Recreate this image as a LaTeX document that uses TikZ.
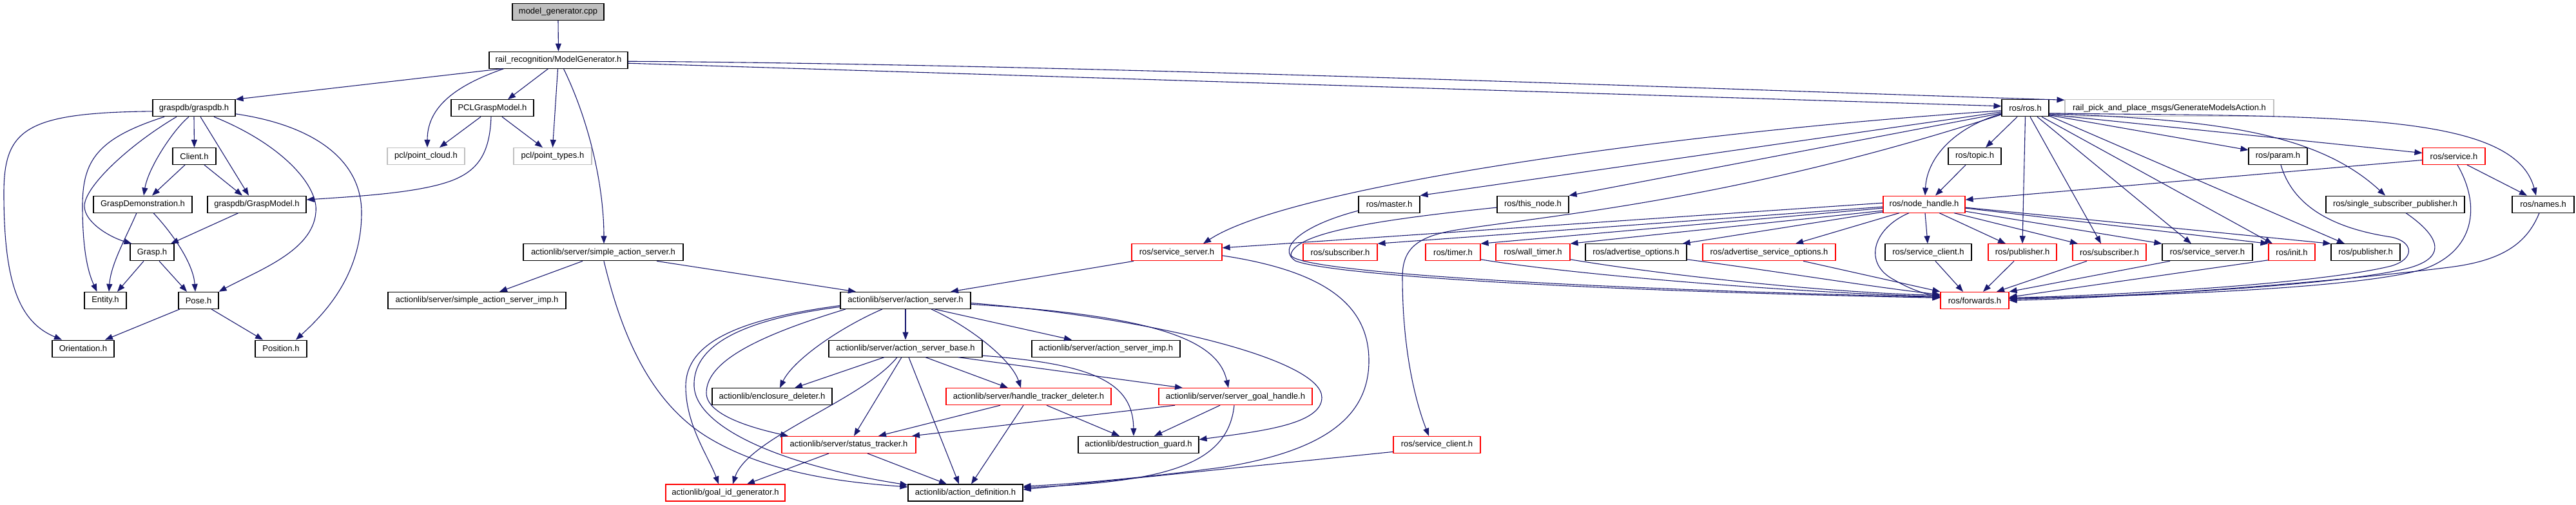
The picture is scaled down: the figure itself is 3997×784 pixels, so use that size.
\documentclass[tikz,border=0pt]{standalone}
\usepackage{fontspec}
\setmainfont{Liberation Sans}
\usetikzlibrary{arrows.meta}
\definecolor{edgec}{HTML}{191970}
\definecolor{greyb}{HTML}{BFBFBF}
\begin{document}
\begin{tikzpicture}[x=1pt,y=-1pt,
 nbox/.style={draw=black, line width=1.1pt, minimum height=26pt, inner sep=0pt, font=\fontsize{13}{15}\selectfont, text=black, fill=white},
 rbox/.style={nbox, draw=red},
 gbox/.style={nbox, draw=greyb},
 dep/.style={draw=edgec, line width=1.1pt, -{Triangle[length=12pt,width=9pt]}}]
\useasboundingbox[fill=white] (0,0) rectangle (3997,784);
% nodes
\node[nbox, fill=greyb, minimum width=142pt] (mg) at (866,18.5) {model\_generator.cpp};
\node[nbox, minimum width=215pt] (MG) at (866.5,93.2) {rail\_recognition/ModelGenerator.h};
\node[nbox, minimum width=128pt] (gdb) at (301,167.8) {graspdb/graspdb.h};
\node[nbox, minimum width=128pt] (pcl) at (764,167.8) {PCLGraspModel.h};
\node[nbox, minimum width=73pt] (ros) at (3142.5,167.8) {ros/ros.h};
\node[gbox, minimum width=324pt] (gma) at (3366,167.8) {rail\_pick\_and\_place\_msgs/GenerateModelsAction.h};
\node[nbox, minimum width=67pt] (cli) at (301.5,242.5) {Client.h};
\node[gbox, minimum width=120pt] (pc) at (661,242.5) {pcl/point\_cloud.h};
\node[gbox, minimum width=121pt] (pt) at (857.5,242.5) {pcl/point\_types.h};
\node[nbox, minimum width=82pt] (topic) at (3064,242.5) {ros/topic.h};
\node[nbox, minimum width=91pt] (param) at (3534.5,242.5) {ros/param.h};
\node[rbox, minimum width=97pt] (service) at (3807.5,242.5) {ros/service.h};
\node[nbox, minimum width=153pt] (gd) at (221.5,317.1) {GraspDemonstration.h};
\node[nbox, minimum width=153pt] (gm) at (398.5,317.1) {graspdb/GraspModel.h};
\node[nbox, minimum width=95pt] (master) at (2155.5,317.1) {ros/master.h};
\node[nbox, minimum width=111pt] (thisnode) at (2378.5,317.1) {ros/this\_node.h};
\node[rbox, minimum width=127pt] (nh) at (2985.5,317.1) {ros/node\_handle.h};
\node[nbox, minimum width=215pt] (ssp) at (3716.5,317.1) {ros/single\_subscriber\_publisher.h};
\node[nbox, minimum width=96pt] (names) at (3946,317.1) {ros/names.h};
\node[nbox, minimum width=68pt] (grasp) at (236,391.8) {Grasp.h};
\node[nbox, minimum width=248pt] (sas) at (936,391.8) {actionlib/server/simple\_action\_server.h};
\node[rbox, minimum width=140pt] (ss1) at (1826,391.8) {ros/service\_server.h};
\node[rbox, minimum width=115pt] (sub1) at (2079.5,391.8) {ros/subscriber.h};
\node[rbox, minimum width=85pt] (timer) at (2254.5,391.8) {ros/timer.h};
\node[rbox, minimum width=115pt] (wtimer) at (2378.5,391.8) {ros/wall\_timer.h};
\node[nbox, minimum width=157pt] (advo) at (2538.5,391.8) {ros/advertise\_options.h};
\node[rbox, minimum width=206pt] (advso) at (2745,391.8) {ros/advertise\_service\_options.h};
\node[nbox, minimum width=134pt] (sc1) at (2992,391.8) {ros/service\_client.h};
\node[rbox, minimum width=106pt] (pub2) at (3138,391.8) {ros/publisher.h};
\node[rbox, minimum width=114pt] (sub2) at (3273,391.8) {ros/subscriber.h};
\node[nbox, minimum width=140pt] (ss2) at (3425,391.8) {ros/service\_server.h};
\node[rbox, minimum width=72pt] (init) at (3556,391.8) {ros/init.h};
\node[nbox, minimum width=107pt] (pub3) at (3670.5,391.8) {ros/publisher.h};
\node[nbox, minimum width=65pt] (entity) at (163.5,466.4) {Entity.h};
\node[nbox, minimum width=62pt] (pose) at (308,466.4) {Pose.h};
\node[nbox, minimum width=276pt] (sasimp) at (740,466.4) {actionlib/server/simple\_action\_server\_imp.h};
\node[nbox, minimum width=202pt] (as) at (1405,466.4) {actionlib/server/action\_server.h};
\node[rbox, minimum width=106pt] (fwd) at (3064,466.4) {ros/forwards.h};
\node[nbox, minimum width=96pt] (orient) at (129,541.1) {Orientation.h};
\node[nbox, minimum width=80pt] (position) at (436,541.1) {Position.h};
\node[nbox, minimum width=238pt] (asb) at (1405,541.1) {actionlib/server/action\_server\_base.h};
\node[nbox, minimum width=230pt] (asimp) at (1716,541.1) {actionlib/server/action\_server\_imp.h};
\node[nbox, minimum width=186pt] (encl) at (1198,615.7) {actionlib/enclosure\_deleter.h};
\node[rbox, minimum width=256pt] (htd) at (1596,615.7) {actionlib/server/handle\_tracker\_deleter.h};
\node[rbox, minimum width=238pt] (sgh) at (1917,615.7) {actionlib/server/server\_goal\_handle.h};
\node[rbox, minimum width=208pt] (st) at (1317,690.4) {actionlib/server/status\_tracker.h};
\node[nbox, minimum width=187pt] (dg) at (1766.5,690.4) {actionlib/destruction\_guard.h};
\node[rbox, minimum width=135pt] (sc2) at (2229.5,690.4) {ros/service\_client.h};
\node[rbox, minimum width=185pt] (gid) at (1125.5,765) {actionlib/goal\_id\_generator.h};
\node[nbox, minimum width=178pt] (ad) at (1498,765) {actionlib/action\_definition.h};
% edges: model generator
\draw[dep] (mg.south) -- (MG.north);
\draw[dep] ([xshift=-88pt]MG.south) -- (gdb.north east);
\draw[dep] ([xshift=-85pt]MG.south) .. controls (700,135) and (663,170) .. ([xshift=2pt]pc.north);
\draw[dep] ([xshift=-16pt]MG.south) -- ([xshift=24pt]pcl.north);
\draw[dep] ([xshift=-1pt]MG.south) -- (pt.north);
\draw[dep] ([xshift=8pt]MG.south) .. controls (915,190) and (937,290) .. ([xshift=1pt]sas.north);
\draw[dep] ([yshift=-2pt]MG.east) .. controls (1700,100) and (2700,140) .. ([yshift=-1pt]gma.north west);
\draw[dep] ([yshift=-5pt]MG.east) -- ([yshift=3pt]ros.west);
% graspdb
\draw[dep] ([yshift=-5pt]gdb.west) .. controls (40,175) and (6,200) .. (6,300) .. controls (6,440) and (30,500) .. ([xshift=-33pt]orient.north);
\draw[dep] ([xshift=-46pt]gdb.south) .. controls (150,215) and (128,250) .. (128,320) .. controls (128,400) and (140,430) .. ([xshift=-13pt]entity.north);
\draw[dep] ([xshift=-27pt]gdb.south) .. controls (200,225) and (131,290) .. (131,320) .. controls (131,345) and (170,368) .. ([xshift=3pt]grasp.north west);
\draw[dep] ([xshift=-8pt]gdb.south) .. controls (270,200) and (230,260) .. ([xshift=1.5pt]gd.north);
\draw[dep] (gdb.south) -- (cli.north);
\draw[dep] ([xshift=10pt]gdb.south) -- ([xshift=-12.5pt]gm.north);
\draw[dep] ([xshift=31pt]gdb.south) .. controls (440,225) and (495,290) .. (490,330) .. controls (485,390) and (400,420) .. (pose.north east);
\draw[dep] ([yshift=-9pt]gdb.east) .. controls (490,195) and (561,250) .. (561,330) .. controls (561,430) and (500,490) .. ([xshift=23pt]position.north);
\draw[dep] ([xshift=-14.5pt]cli.south) -- ([xshift=14.5pt]gd.north);
\draw[dep] ([xshift=15.5pt]cli.south) -- ([xshift=-22.5pt]gm.north);
\draw[dep] ([xshift=-18pt]pcl.south) -- ([xshift=21pt]pc.north);
\draw[dep] ([xshift=15pt]pcl.south) -- ([xshift=-15.5pt]pt.north);
\draw[dep] ([xshift=-2pt]pcl.south) .. controls (760,240) and (740,265) .. (702,280) .. controls (650,300) and (550,305) .. ([yshift=7pt]gm.east);
\draw[dep] ([xshift=-9.5pt]gd.south) .. controls (195,370) and (172,410) .. ([xshift=5.5pt]entity.north);
\draw[dep] ([xshift=16.5pt]gd.south) .. controls (270,365) and (300,410) .. ([xshift=-5pt]pose.north);
\draw[dep] ([xshift=-28.5pt]gm.south) -- ([xshift=29pt]grasp.north);
\draw[dep] ([xshift=-13pt]grasp.south) -- ([xshift=18.5pt]entity.north);
\draw[dep] ([xshift=11pt]grasp.south) -- ([xshift=-18pt]pose.north);
\draw[dep] ([xshift=-29pt]pose.south) -- ([xshift=34pt]orient.north);
\draw[dep] ([xshift=20pt]pose.south) -- ([xshift=-28pt]position.north);
% actionlib
\draw[dep] ([xshift=-32pt]sas.south) -- ([xshift=35pt]sasimp.north);
\draw[dep] ([xshift=83pt]sas.south) -- ([xshift=-77pt]as.north);
\draw[dep] ([xshift=1pt]sas.south) .. controls (960,500) and (1000,620) .. (1100,680) .. controls (1200,740) and (1330,750) .. ([yshift=9pt]ad.west);
\draw[dep] ([xshift=-67pt]ss1.south) -- ([xshift=70pt]as.north);
\draw[dep] ([yshift=-5pt]ss1.east) .. controls (2050,420) and (2124,470) .. (2124,560) .. controls (2124,650) and (2050,700) .. (1900,725) .. controls (1750,745) and (1650,752) .. ([yshift=10pt]ad.east);
\draw[dep] ([yshift=-11pt]sc2.west) -- ([yshift=5pt]ad.east);
\draw[dep] ([yshift=-8pt]as.west) .. controls (1150,495) and (1064,530) .. (1064,600) .. controls (1064,660) and (1100,710) .. ([xshift=-10.5pt]gid.north);
\draw[dep] ([yshift=-10pt]as.west) .. controls (1120,500) and (1075,550) .. (1077,600) .. controls (1080,660) and (1200,720) .. ([yshift=12pt]ad.west);
\draw[dep] ([xshift=-93pt]as.south) .. controls (1180,520) and (1096,560) .. (1096,610) .. controls (1096,645) and (1170,665) .. ([xshift=-94pt]st.north);
\draw[dep] ([xshift=-36pt]as.south) .. controls (1300,510) and (1230,560) .. ([xshift=12pt]encl.north);
\draw[dep] (as.south) -- (asb.north);
\draw[dep] ([xshift=40pt]as.south) .. controls (1510,510) and (1570,560) .. ([xshift=-12pt]htd.north);
\draw[dep] ([xshift=45pt]as.south) -- ([xshift=-53pt]asimp.north);
\draw[dep] ([yshift=-6pt]as.east) .. controls (1800,490) and (1890,530) .. ([xshift=-11pt]sgh.north);
\draw[dep] ([yshift=-4pt]as.east) .. controls (1800,495) and (2051,560) .. (2051,617) .. controls (2051,660) and (1950,670) .. ([yshift=8pt]dg.east);
\draw[dep] ([xshift=-33pt]asb.south) -- ([xshift=35pt]encl.north);
\draw[dep] ([xshift=-13pt]asb.south) .. controls (1340,620) and (1160,680) .. ([xshift=11.5pt]gid.north);
\draw[dep] ([xshift=-6pt]asb.south) -- ([xshift=8pt]st.north);
\draw[dep] ([xshift=5pt]asb.south) -- ([xshift=-10pt]ad.north);
\draw[dep] ([xshift=31pt]asb.south) -- ([xshift=-32pt]htd.north);
\draw[dep] ([xshift=82pt]asb.south) -- ([xshift=-82pt]sgh.north);
\draw[dep] ([yshift=-11pt]asb.east) .. controls (1700,565) and (1758,595) .. ([xshift=-7.5pt]dg.north);
\draw[dep] ([xshift=-44pt]htd.south) -- ([xshift=46pt]st.north);
\draw[dep] ([xshift=-8pt]htd.south) -- ([xshift=9pt]ad.north);
\draw[dep] ([xshift=28pt]htd.south) -- ([xshift=-29.5pt]dg.north);
\draw[dep] ([xshift=-94pt]sgh.south) -- ([xshift=98pt]st.north);
\draw[dep] ([xshift=-24pt]sgh.south) -- ([xshift=24.5pt]dg.north);
\draw[dep] ([xshift=-2pt]sgh.south) .. controls (1905,725) and (1800,748) .. ([yshift=8pt]ad.east);
\draw[dep] ([xshift=-31pt]st.south) -- ([xshift=33.5pt]gid.north);
\draw[dep] ([xshift=29pt]st.south) -- ([xshift=-29pt]ad.north);
% ros.h
\draw[dep] ([yshift=-4pt]ros.west) .. controls (2600,205) and (2000,290) .. ([xshift=41pt]ss1.north);
\draw[dep] ([yshift=-6pt]ros.west) -- (master.north east);
\draw[dep] ([yshift=-8pt]ros.west) -- (thisnode.north east);
\draw[dep] ([yshift=-10pt]ros.west) .. controls (2700,310) and (2400,335) .. (2260,357) .. controls (2200,367) and (2176,385) .. (2176,430) .. controls (2176,540) and (2195,620) .. ([xshift=-12.5pt]sc2.north);
\draw[dep] ([yshift=-9pt]ros.west) .. controls (3040,195) and (2990,240) .. ([xshift=1.5pt]nh.north);
\draw[dep] ([xshift=-12.5pt]ros.south) -- ([xshift=17pt]topic.north);
\draw[dep] (ros.south) -- (pub2.north);
\draw[dep] ([xshift=7.5pt]ros.south) -- ([xshift=-13pt]sub2.north);
\draw[dep] ([xshift=18.5pt]ros.south) -- ([xshift=-25pt]ss2.north);
\draw[dep] ([xshift=25.5pt]ros.south) -- ([xshift=-30pt]init.north);
\draw[dep] ([yshift=-12pt]ros.east) -- ([xshift=-32.5pt]pub3.north);
\draw[dep] ([yshift=-11pt]ros.east) -- ([yshift=-4pt]param.north west);
\draw[dep] ([yshift=-10pt]ros.east) -- ([yshift=5pt]service.west);
\draw[dep] ([yshift=-9pt]ros.east) .. controls (3450,185) and (3600,210) .. ([xshift=-15.5pt]ssp.north);
\draw[dep] ([yshift=-8pt]ros.east) .. controls (3600,182) and (3900,170) .. ([xshift=-11pt]names.north);
\draw[dep] ([xshift=-14pt]topic.south) -- ([xshift=17.5pt]nh.north);
% into forwards
\draw[dep] ([xshift=4.5pt]param.south) .. controls (3552,300) and (3590,350) .. (3710,368) .. controls (3745,375) and (3748,402) .. (3710,413) .. controls (3600,440) and (3300,458) .. ([yshift=4pt]fwd.east);
\draw[dep] ([yshift=-6pt]service.west) -- ([yshift=7pt]nh.east);
\draw[dep] ([xshift=20.5pt]service.south) -- ([xshift=-25pt]names.north);
\draw[dep] ([xshift=5.5pt]service.south) .. controls (3850,320) and (3840,390) .. (3760,418) .. controls (3650,450) and (3300,460) .. ([yshift=3pt]fwd.east);
\draw[dep] ([xshift=16.5pt]ssp.south) .. controls (3790,370) and (3800,405) .. (3720,420) .. controls (3600,445) and (3300,460) .. ([yshift=2pt]fwd.east);
\draw[dep] ([xshift=-6pt]names.south) .. controls (3920,380) and (3880,405) .. (3800,415) .. controls (3600,440) and (3300,462) .. (fwd.east);
\draw[dep] ([yshift=-12pt]init.west) -- ([yshift=5pt]fwd.east);
\draw[dep] ([xshift=-58pt]ss2.south) -- (fwd.north east);
\draw[dep] ([xshift=-35pt]sub2.south) -- ([xshift=34pt]fwd.north);
\draw[dep] ([xshift=-13pt]pub2.south) -- ([xshift=13pt]fwd.north);
\draw[dep] ([xshift=11pt]sc1.south) -- ([xshift=-18pt]fwd.north);
\draw[dep] ([xshift=-23.5pt]nh.south) .. controls (2905,355) and (2890,410) .. (2940,435) .. controls (2965,450) and (2990,457) .. ([yshift=6pt]fwd.west);
% node_handle
\draw[dep] ([xshift=1.5pt]nh.south) -- ([xshift=-1pt]sc1.north);
\draw[dep] ([xshift=-38.5pt]nh.south) -- ([xshift=41pt]advso.north);
\draw[dep] ([yshift=-12pt]nh.west) -- ([xshift=-7pt]advo.north east);
\draw[dep] ([yshift=-10pt]nh.west) -- (wtimer.north east);
\draw[dep] ([yshift=-6pt]nh.west) -- (timer.north east);
\draw[dep] ([yshift=-4pt]nh.west) -- (sub1.north east);
\draw[dep] ([yshift=2pt]nh.west) -- ([yshift=7pt]ss1.east);
\draw[dep] ([xshift=23.5pt]nh.south) -- ([xshift=-26pt]pub2.north);
\draw[dep] ([xshift=46.5pt]nh.south) -- ([xshift=-49pt]sub2.north);
\draw[dep] ([yshift=-11pt]nh.east) -- (ss2.north west);
\draw[dep] ([yshift=-6pt]nh.east) -- (init.north west);
\draw[dep] ([yshift=-5pt]nh.east) -- (pub3.north west);
% left ros leaves into forwards
\draw[dep] ([yshift=-10pt]master.west) .. controls (2020,350) and (1980,385) .. (2010,405) .. controls (2060,425) and (2400,450) .. ([yshift=4pt]fwd.west);
\draw[dep] ([yshift=-5pt]thisnode.west) .. controls (2150,340) and (2010,360) .. (2003,395) .. controls (1998,420) and (2400,447) .. ([yshift=5pt]fwd.west);
\draw[dep] ([yshift=-11pt]timer.east) .. controls (2450,428) and (2800,455) .. ([yshift=6pt]fwd.west);
\draw[dep] ([yshift=-11pt]wtimer.east) .. controls (2600,430) and (2850,455) .. ([yshift=8pt]fwd.west);
\draw[dep] ([yshift=-11pt]advo.east) .. controls (2750,420) and (2900,445) .. ([yshift=9pt]fwd.west);
\draw[dep] ([xshift=53pt]advso.south) -- (fwd.north west);
\end{tikzpicture}
\end{document}
